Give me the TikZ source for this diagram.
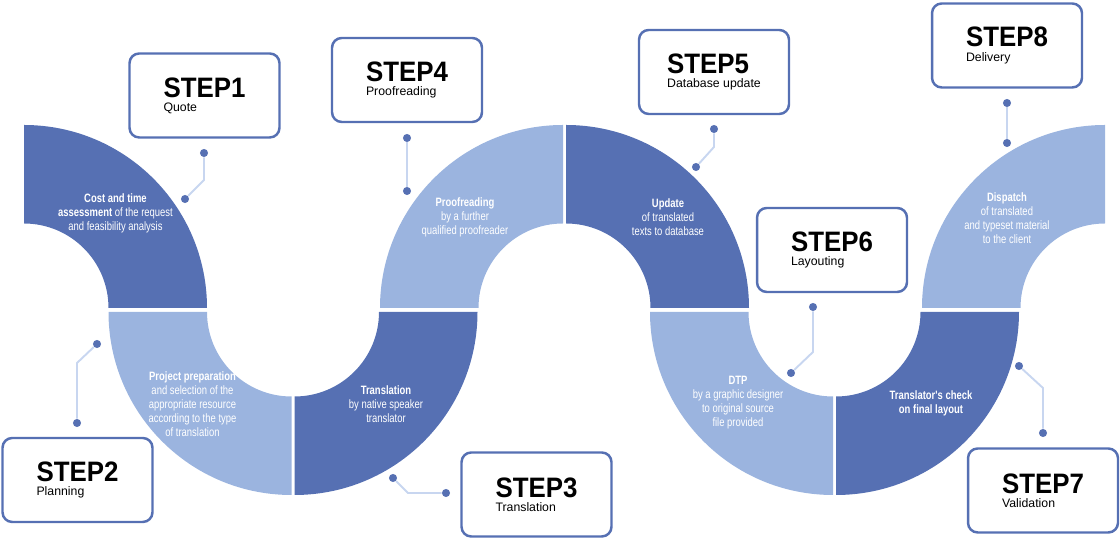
\documentclass[tikz,border=0pt]{standalone}
\usepackage{fontspec}
\setmainfont{Liberation Sans}
\newfontfamily\stepfont[FakeStretch=0.92]{Liberation Sans}
\newfontfamily\segfont[FakeStretch=0.78]{Liberation Sans}
\usepackage{xcolor}
\usepackage{tikz}
\usetikzlibrary{positioning}
\definecolor{segdark}{RGB}{86,112,179}
\definecolor{seglight}{RGB}{155,180,223}
\definecolor{linkline}{RGB}{200,214,240}

\begin{document}
\begin{tikzpicture}[
  x=0.02cm, y=0.02cm,
  stepbox/.style={rectangle,draw=segdark,line width=1.4pt,rounded corners=5.5pt,fill=white,
    minimum width=3.0cm,minimum height=1.68cm,align=left,font=\fontsize{7}{8}\selectfont},
  steptitle/.style={},
  segtext/.style={text=white,align=center,font=\segfont\fontsize{6.9}{8}\selectfont},
  dark/.style={fill=segdark},
  light/.style={fill=seglight},
  conn/.style={draw=linkline,line width=1.1pt},
  dot/.style={circle,fill=segdark,inner sep=0pt,minimum size=4.6pt}
]
\useasboundingbox (0,0) rectangle (1120,540);

% ring segments (inner 84.5, outer 183)
\fill[dark]  (108.5,232) arc[start angle=0,end angle=90,radius=84.5] -- (24,415) arc[start angle=90,end angle=0,radius=183] -- cycle;
\fill[light] (108.5,228) arc[start angle=180,end angle=270,radius=183] -- (291.5,143.5) arc[start angle=270,end angle=180,radius=84.5] -- cycle;
\fill[dark]  (294.5,143.5) arc[start angle=270,end angle=360,radius=84.5] -- (477.5,228) arc[start angle=360,end angle=270,radius=183] -- cycle;
\fill[light] (380,232) arc[start angle=180,end angle=90,radius=183] -- (563,316.5) arc[start angle=90,end angle=180,radius=84.5] -- cycle;
\fill[dark]  (650.5,232) arc[start angle=0,end angle=90,radius=84.5] -- (566,415) arc[start angle=90,end angle=0,radius=183] -- cycle;
\fill[light] (650,228) arc[start angle=180,end angle=270,radius=183] -- (833,143.5) arc[start angle=270,end angle=180,radius=84.5] -- cycle;
\fill[dark]  (836,143.5) arc[start angle=270,end angle=360,radius=84.5] -- (1019,228) arc[start angle=360,end angle=270,radius=183] -- cycle;
\fill[light] (922,232) arc[start angle=180,end angle=90,radius=183] -- (1105,316.5) arc[start angle=90,end angle=180,radius=84.5] -- cycle;

% texts on the ring
\node[segtext] (task1) at (115.5,327) {\textbf{Cost and time}\\\textbf{assessment} of the request\\and feasibility analysis};
\node[segtext] (task2) at (192.5,136) {\textbf{Project preparation}\\and selection of the\\appropriate resource\\according to the type\\of translation};
\node[segtext] (task3) at (386,136) {\textbf{Translation}\\by native speaker\\translator};
\node[segtext] (task4) at (465,323) {\textbf{Proofreading}\\by a further\\qualified proofreader};
\node[segtext] (task5) at (668,323) {\textbf{Update}\\of translated\\texts to database};
\node[segtext] (task6) at (738,137) {\textbf{DTP}\\by a graphic designer\\to original source\\file provided};
\node[segtext] (task7) at (931,137) {\textbf{Translator's check}\\\textbf{on final layout}};
\node[segtext] (task8) at (1007,322) {\textbf{Dispatch}\\of translated\\and typeset material\\to the client};

% step boxes
\node[stepbox] (step1) at (204.5,444.5) {{\stepfont\fontsize{16}{18}\selectfont\bfseries STEP1}\\Quote};
\node[stepbox] (step2) at (77.5,60) {{\stepfont\fontsize{16}{18}\selectfont\bfseries STEP2}\\Planning};
\node[stepbox] (step3) at (536.5,45.5) {{\stepfont\fontsize{16}{18}\selectfont\bfseries STEP3}\\Translation};
\node[stepbox] (step4) at (407,460) {{\stepfont\fontsize{16}{18}\selectfont\bfseries STEP4}\\Proofreading};
\node[stepbox] (step5) at (714,468) {{\stepfont\fontsize{16}{18}\selectfont\bfseries STEP5}\\Database update};
\node[stepbox] (step6) at (832,290) {{\stepfont\fontsize{16}{18}\selectfont\bfseries STEP6}\\Layouting};
\node[stepbox] (step7) at (1043,49.5) {{\stepfont\fontsize{16}{18}\selectfont\bfseries STEP7}\\Validation};
\node[stepbox] (step8) at (1007,494.5) {{\stepfont\fontsize{16}{18}\selectfont\bfseries STEP8}\\Delivery};

% connectors
\node[dot] (d1a) at (204,387) {};
\coordinate (b1) at (204,360);
\node[dot] (d1b) at (185,341) {};
\draw[conn] (d1a) -- (b1) -- (d1b);

\node[dot] (d2a) at (97,196) {};
\coordinate (b2) at (77,177);
\node[dot] (d2b) at (77,117) {};
\draw[conn] (d2a) -- (b2) -- (d2b);

\node[dot] (d3a) at (393,62) {};
\coordinate (b3) at (408,47);
\node[dot] (d3b) at (446,47) {};
\draw[conn] (d3a) -- (b3) -- (d3b);

\node[dot] (d4a) at (407,402) {};
\node[dot] (d4b) at (407,349) {};
\draw[conn] (d4a) -- (d4b);

\node[dot] (d5a) at (714,411) {};
\coordinate (b5) at (714,393);
\node[dot] (d5b) at (696,373) {};
\draw[conn] (d5a) -- (b5) -- (d5b);

\node[dot] (d6a) at (813,233) {};
\coordinate (b6) at (813,188);
\node[dot] (d6b) at (791,167) {};
\draw[conn] (d6a) -- (b6) -- (d6b);

\node[dot] (d7a) at (1019,174) {};
\coordinate (b7) at (1043,152);
\node[dot] (d7b) at (1043,107) {};
\draw[conn] (d7a) -- (b7) -- (d7b);

\node[dot] (d8a) at (1007,437) {};
\node[dot] (d8b) at (1007,397) {};
\draw[conn] (d8a) -- (d8b);
\end{tikzpicture}
\end{document}
